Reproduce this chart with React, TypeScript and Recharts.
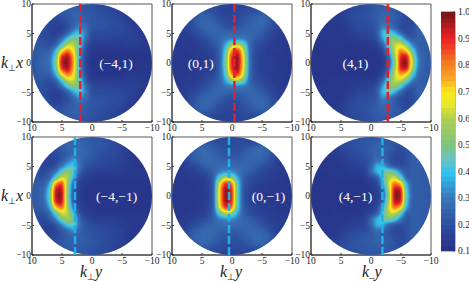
import React from "react";
import { ScatterChart, Scatter, XAxis, YAxis, ReferenceArea, ReferenceDot } from "recharts";

const SERIF = '"Liberation Serif", serif';

const axisTicks = [10, 5, 0, -5, -10];
const gridX = [10, 9, 8, 7, 6, 5, 4, 3, 2, 1, 0, -1, -2, -3, -4, -5, -6, -7, -8, -9, -10];
const gridY = [10, 9, 8, 7, 6, 5, 4, 3, 2, 1, 0, -1, -2, -3, -4, -5, -6, -7, -8, -9, -10];

// intensity x100, rows from y=10 down to y=-10, columns from x=10 to x=-10
const gridMinus4Plus1 = [
  [18,18,18,18,18,20,22,22,22,21,20,19,18,17,16,15,14,14,13,13,13],
  [18,18,18,19,20,22,23,24,24,22,21,20,19,18,16,15,14,13,13,13,13],
  [18,18,19,20,20,21,23,25,25,23,22,21,20,19,18,16,14,13,13,13,13],
  [18,19,20,18,17,18,21,24,27,24,22,21,21,20,19,18,15,14,13,13,13],
  [18,20,20,17,15,15,19,25,33,27,22,21,21,20,19,19,17,15,13,13,13],
  [18,20,20,17,15,17,24,36,43,31,20,19,19,19,18,18,17,16,14,13,13],
  [18,21,20,18,18,26,42,52,46,28,18,17,17,17,16,16,16,16,15,13,13],
  [19,22,21,20,24,40,62,62,44,22,15,14,14,14,14,14,15,15,14,13,13],
  [20,23,23,24,36,68,82,68,38,19,13,12,12,12,12,12,13,13,13,13,13],
  [20,24,25,27,44,90,99,76,36,17,13,12,12,12,12,12,12,12,12,12,12],
  [20,24,26,28,47,96,100,78,36,16,12,12,12,12,12,12,12,12,12,12,12],
  [20,24,25,27,44,90,99,76,36,17,13,12,12,12,12,12,12,12,12,12,12],
  [20,23,23,24,36,68,84,70,38,19,13,12,12,12,12,12,13,13,13,13,13],
  [19,22,21,20,24,42,64,64,46,22,15,14,14,14,14,14,15,15,14,13,13],
  [18,21,20,18,18,28,44,54,48,28,18,17,17,17,16,16,16,16,15,13,13],
  [18,20,20,17,15,17,24,36,44,31,20,19,19,19,18,18,17,16,14,13,13],
  [18,20,20,17,15,16,20,26,34,27,22,21,21,20,19,19,17,15,13,13,13],
  [18,19,20,18,17,18,21,24,27,24,22,21,21,20,19,18,15,14,13,13,13],
  [18,18,19,20,20,21,23,25,25,23,22,21,20,19,18,16,14,13,13,13,13],
  [18,18,18,19,20,22,23,24,24,22,21,20,19,18,16,15,14,13,13,13,13],
  [18,18,18,18,18,20,22,22,22,21,20,19,18,17,16,15,14,14,13,13,13],
];

const gridZeroPlus1 = [
  [14,14,14,15,16,16,17,17,17,17,17,17,17,17,17,16,15,14,14,14,14],
  [14,14,15,16,18,20,20,18,17,16,16,17,18,19,19,19,18,16,15,14,14],
  [14,14,16,18,22,25,24,21,19,17,17,18,20,22,23,25,24,19,16,14,14],
  [14,15,16,19,23,26,26,24,21,19,18,19,21,24,26,27,25,20,16,14,14],
  [14,15,16,18,21,25,26,26,24,21,20,21,23,25,26,26,23,19,16,14,14],
  [14,14,15,16,18,21,24,26,26,26,25,25,26,26,25,23,20,17,15,14,14],
  [13,14,14,15,16,18,21,24,26,29,30,31,30,27,23,21,18,16,14,14,14],
  [13,13,14,14,14,16,18,21,25,36,56,62,50,26,20,18,16,15,14,13,13],
  [13,13,13,14,14,15,16,18,24,42,80,92,64,27,19,17,15,14,14,13,13],
  [13,13,13,13,14,14,15,17,23,46,90,100,68,27,18,16,15,14,13,13,13],
  [13,13,13,13,14,14,15,17,23,48,92,100,70,28,18,16,15,14,13,13,13],
  [13,13,13,13,14,14,15,17,23,46,90,100,68,27,18,16,15,14,13,13,13],
  [13,13,13,14,14,15,16,18,24,42,80,92,64,27,19,17,15,14,14,13,13],
  [13,13,14,14,14,16,18,21,25,36,56,62,50,26,20,18,16,15,14,13,13],
  [13,14,14,15,16,18,21,24,26,29,30,31,30,27,23,21,18,16,14,14,14],
  [14,14,15,16,18,21,24,26,26,26,25,25,26,26,25,23,20,17,15,14,14],
  [14,15,16,18,21,25,26,26,24,21,20,21,23,25,26,26,23,19,16,14,14],
  [14,15,16,19,23,26,26,24,21,19,18,19,21,24,26,27,25,20,16,14,14],
  [14,14,16,18,22,25,24,21,19,17,17,18,20,22,23,25,24,19,16,14,14],
  [14,14,15,16,18,20,20,18,17,16,16,17,18,19,19,19,18,16,15,14,14],
  [14,14,14,15,16,16,17,17,17,17,17,17,17,17,17,16,15,14,14,14,14],
];

const gridPlus4Plus1 = [
  [13,13,13,14,14,15,15,16,18,20,21,22,22,22,22,21,20,20,20,20,20],
  [13,13,13,13,14,15,16,18,19,20,21,23,24,24,23,21,19,20,21,21,21],
  [13,13,13,13,13,15,17,19,20,21,22,24,26,26,24,21,18,20,22,22,22],
  [13,13,13,13,13,14,16,18,20,20,21,23,27,26,23,20,17,19,23,23,22],
  [13,13,13,13,13,13,15,17,19,19,20,22,31,30,24,19,17,19,24,24,22],
  [13,13,13,13,13,13,14,15,17,17,18,21,40,46,38,26,18,20,25,24,22],
  [13,13,13,13,13,13,13,14,15,15,16,19,34,50,54,46,28,21,25,24,22],
  [12,12,12,13,13,13,13,13,13,13,14,15,24,44,62,66,52,30,24,24,22],
  [12,12,12,12,12,12,12,12,12,12,12,13,17,34,62,80,72,44,26,24,22],
  [12,12,12,12,12,12,12,12,12,12,12,12,14,25,54,92,96,56,28,24,22],
  [12,12,12,12,12,12,12,12,12,12,12,12,13,21,48,96,100,62,30,24,22],
  [12,12,12,12,12,12,12,12,12,12,12,12,14,25,54,92,96,56,28,24,22],
  [12,12,12,12,12,12,12,12,12,12,12,13,17,34,62,78,70,44,26,24,22],
  [12,12,12,13,13,13,13,13,13,13,14,15,24,46,62,64,50,30,24,24,22],
  [13,13,13,13,13,13,13,14,15,15,16,19,34,52,56,46,28,21,25,24,22],
  [13,13,13,13,13,13,14,15,17,17,18,21,40,48,38,26,18,20,25,24,22],
  [13,13,13,13,13,13,15,17,19,19,20,22,33,30,24,19,17,19,24,24,22],
  [13,13,13,13,13,14,16,18,20,20,21,23,27,26,23,20,17,19,23,23,22],
  [13,13,13,13,13,15,17,19,20,21,22,24,26,26,24,21,18,20,22,22,22],
  [13,13,13,13,14,15,16,18,19,20,21,23,24,24,23,21,19,20,21,21,21],
  [13,13,13,14,14,15,15,16,18,20,21,22,22,22,22,21,20,20,20,20,20],
];

const gridMinus4Minus1 = [
  [18,18,18,19,20,22,23,24,24,23,22,21,20,19,17,15,14,13,13,13,13],
  [18,18,19,20,22,23,25,26,26,24,23,22,21,20,18,16,14,13,13,13,13],
  [18,19,20,20,21,23,25,27,27,25,23,22,21,20,18,16,14,13,13,13,13],
  [18,20,20,18,18,21,24,27,27,25,23,21,20,19,18,16,14,13,13,13,13],
  [19,20,17,15,17,22,28,36,27,23,21,20,19,18,17,16,14,13,13,13,13],
  [20,19,16,17,20,28,38,44,28,21,19,18,17,17,16,15,14,13,13,13,13],
  [20,19,18,22,28,46,56,46,24,18,16,15,15,15,15,14,13,13,13,13,13],
  [21,21,21,24,44,64,60,36,19,15,14,13,13,13,13,13,13,13,13,13,13],
  [22,23,24,34,80,90,56,24,16,13,12,12,12,12,12,12,12,12,12,12,12],
  [22,24,26,42,94,98,52,22,15,13,12,12,12,12,12,12,12,12,12,12,12],
  [22,24,27,44,96,100,50,20,14,12,12,12,12,12,12,12,12,12,12,12,12],
  [22,24,26,42,94,98,52,22,15,13,12,12,12,12,12,12,12,12,12,12,12],
  [22,23,24,34,74,86,58,26,16,13,12,12,12,12,12,12,12,12,12,12,12],
  [21,21,21,25,46,64,62,40,20,15,14,13,13,13,13,13,13,13,13,13,13],
  [20,19,18,22,30,50,58,50,26,18,16,15,15,15,15,14,13,13,13,13,13],
  [20,19,16,17,20,30,42,46,28,21,19,18,17,17,16,15,14,13,13,13,13],
  [19,20,17,15,17,22,26,34,24,22,21,20,19,18,17,16,14,13,13,13,13],
  [18,20,20,18,18,21,24,25,24,23,21,20,19,18,17,16,14,13,13,13,13],
  [18,19,20,20,21,22,24,24,24,23,22,21,20,19,17,16,14,13,13,13,13],
  [18,18,19,20,21,22,23,23,23,22,21,20,19,18,16,15,14,13,13,13,13],
  [18,18,18,19,20,21,22,22,22,21,20,19,18,17,16,15,14,13,13,13,13],
];

const gridZeroMinus1 = [
  [14,14,14,15,16,17,17,18,18,18,18,18,18,17,17,16,15,14,14,14,14],
  [14,14,15,17,20,22,22,20,19,19,19,19,19,19,20,20,18,16,15,14,14],
  [14,15,17,20,24,27,26,23,21,20,20,20,21,23,26,27,24,20,16,14,14],
  [14,15,18,22,25,27,27,25,23,21,21,21,23,25,27,27,25,20,16,14,14],
  [14,15,17,20,23,26,27,26,25,24,24,24,25,26,26,25,22,18,15,14,14],
  [14,14,15,17,19,22,25,26,27,28,28,27,26,25,24,21,19,16,15,14,14],
  [13,13,14,15,16,18,21,24,30,32,32,29,26,24,21,18,16,15,14,14,14],
  [13,13,13,14,14,15,17,24,46,62,56,36,23,20,17,16,15,14,14,13,13],
  [13,13,13,13,13,14,16,23,68,92,86,44,22,18,16,15,14,14,13,13,13],
  [13,13,13,13,13,14,15,23,72,100,92,44,21,17,15,14,14,13,13,13,13],
  [13,13,13,13,13,13,15,23,72,100,94,44,20,16,15,14,13,13,13,13,13],
  [13,13,13,13,13,14,15,23,72,100,92,44,21,17,15,14,14,13,13,13,13],
  [13,13,13,13,13,14,16,23,68,92,86,44,22,18,16,15,14,14,13,13,13],
  [13,13,13,14,14,15,17,24,46,62,56,36,23,20,17,16,15,14,14,13,13],
  [13,13,14,15,16,18,21,24,30,32,32,29,26,24,21,18,16,15,14,14,14],
  [14,14,15,17,19,22,25,26,27,28,28,27,26,25,24,21,19,16,15,14,14],
  [14,15,17,20,23,26,27,26,25,24,24,24,25,26,26,25,22,18,15,14,14],
  [14,15,18,22,25,27,27,25,23,21,21,21,23,25,27,27,25,20,16,14,14],
  [14,15,17,20,24,27,26,23,21,20,20,20,21,23,26,27,24,20,16,14,14],
  [14,14,15,17,20,22,22,20,19,18,18,18,19,19,20,20,18,16,15,14,14],
  [14,14,14,15,16,17,17,17,17,17,17,17,17,17,17,16,15,14,14,14,14],
];

const gridPlus4Minus1 = [
  [13,13,14,15,16,17,18,19,20,21,21,21,22,22,21,20,20,20,20,20,20],
  [13,13,14,15,16,18,19,20,21,22,23,24,24,23,22,20,20,21,21,21,21],
  [13,13,13,14,15,17,19,20,21,22,24,26,26,24,21,19,20,22,23,22,22],
  [13,13,13,13,14,15,17,19,20,21,23,26,25,22,19,18,20,23,24,23,22],
  [13,13,13,13,13,14,16,17,18,19,22,28,27,21,18,17,20,24,24,23,22],
  [13,13,13,13,13,13,14,15,16,17,24,38,38,26,20,20,21,24,24,23,22],
  [12,13,13,13,13,13,13,14,14,16,26,38,46,52,46,30,21,24,24,23,22],
  [12,12,12,12,13,13,13,13,13,14,17,22,40,60,64,46,23,24,24,23,22],
  [12,12,12,12,12,12,12,12,12,12,14,16,34,64,84,76,36,23,24,23,22],
  [12,12,12,12,12,12,12,12,12,12,13,15,24,56,96,96,40,23,24,23,22],
  [12,12,12,12,12,12,12,12,12,12,13,14,20,52,100,98,44,23,24,23,22],
  [12,12,12,12,12,12,12,12,12,12,13,15,24,56,96,96,40,23,24,23,22],
  [12,12,12,12,12,12,12,12,12,12,14,16,34,64,84,76,36,23,24,23,22],
  [12,12,12,12,13,13,13,13,13,14,17,22,40,60,64,46,23,24,24,23,22],
  [12,13,13,13,13,13,13,14,14,16,26,38,46,52,46,30,21,24,24,23,22],
  [13,13,13,13,13,13,14,15,16,17,24,38,38,26,20,20,21,24,24,23,22],
  [13,13,13,13,13,14,16,18,19,20,22,28,26,21,18,17,20,24,24,23,22],
  [13,13,13,13,14,16,18,20,21,22,23,25,24,22,19,18,20,23,24,23,22],
  [13,13,13,14,16,18,20,21,22,23,24,25,24,23,21,19,20,22,23,22,22],
  [13,13,14,15,17,19,20,21,22,22,23,23,23,22,21,20,20,21,21,21,21],
  [13,13,14,15,16,17,18,19,20,21,21,21,21,21,21,20,20,20,20,20,20],
];

const panelGrids = [gridMinus4Plus1, gridZeroPlus1, gridPlus4Plus1, gridMinus4Minus1, gridZeroMinus1, gridPlus4Minus1];
const panelNames = ["(−4,1)", "(0,1)", "(4,1)", "(−4,−1)", "(0,−1)", "(4,−1)"];
const nameX = [-4, 5.2, 2.6, -4.1, -6.1, 2.6];
const dividerX = [1.95, -0.4, -2.8, 2.83, 0.5, -1.9];
const plotLeft = [32, 172, 311, 32, 172, 311];
const plotTop = [4, 4, 4, 137, 137, 137];

const colorbarTicks = [0.1, 0.2, 0.3, 0.4, 0.5, 0.6, 0.7, 0.8, 0.9, 1.0];
const colorbarLevels = [
  0.11, 0.13, 0.15, 0.17, 0.19, 0.21, 0.23, 0.25, 0.27, 0.29, 0.31, 0.33, 0.35, 0.37, 0.39,
  0.41, 0.43, 0.45, 0.47, 0.49, 0.51, 0.53, 0.55, 0.57, 0.59, 0.61, 0.63, 0.65, 0.67, 0.69,
  0.71, 0.73, 0.75, 0.77, 0.79, 0.81, 0.83, 0.85, 0.87, 0.89, 0.91, 0.93, 0.95, 0.97, 0.99,
];

const colorStops: [number, number[]][] = [
  [0.1, [38, 47, 134]],
  [0.2, [45, 79, 159]],
  [0.3, [58, 118, 184]],
  [0.39, [47, 192, 238]],
  [0.45, [108, 196, 192]],
  [0.5, [124, 195, 124]],
  [0.6, [176, 208, 80]],
  [0.65, [230, 230, 42]],
  [0.7, [251, 232, 26]],
  [0.75, [249, 168, 37]],
  [0.8, [245, 130, 31]],
  [0.9, [237, 32, 36]],
  [0.95, [176, 28, 32]],
  [1.0, [112, 20, 20]],
];

const channelsAt = (v: number) => {
  let i = 0;
  while (i < colorStops.length - 2 && v > colorStops[i + 1][0]) i++;
  const [a, ca] = colorStops[i];
  const [b, cb] = colorStops[i + 1];
  const t = Math.max(0, Math.min(1, (v - a) / (b - a)));
  return ca.map((n, k) => Math.round(n + (cb[k] - n) * t));
};

const colorAt = (v: number) => {
  const c = channelsAt(v);
  return `rgb(${c[0]},${c[1]},${c[2]})`;
};

// colour lookup for the panels: cells are drawn as grey levels, softened, then mapped through the colour scale
const tableSteps = Array.from({ length: 101 }, (_, i) => i / 100);
const tableFor = (k: number) => tableSteps.map((v) => (channelsAt(v)[k] / 255).toFixed(3)).join(" ");

const minusTick = (v: number) => (v < 0 ? `−${-v}` : `${v}`);

const HeatCell = (props: any) => {
  const g = Math.round(props.payload.v * 255);
  return <rect x={props.cx - 3.5} y={props.cy - 3.5} width={7} height={7} fill={`rgb(${g},${g},${g})`} />;
};

const BarCell = (props: any) => (
  <rect x={props.cx - 7} y={props.cy - 3} width={14} height={6} fill={colorAt(props.payload.v)} />
);

const NoMark = () => null;

const PLOT_W = 120;
const PLOT_H = 118;
const AXIS_W = 28;
const PAD_TOP = 6;
const PAD_RIGHT = 14;

const tickStyle = { fontSize: 9.5, fontFamily: SERIF, fill: "#222" };

const Panel = ({ index }: { index: number }) => {
  const cells = panelGrids[index].flatMap((row, r) => row.map((v, c) => ({ x: gridX[c], y: gridY[r], v: v / 100 })));
  const divider = [{ x: dividerX[index], y: -10 }, { x: dividerX[index], y: 10 }];
  const lineColor = index < 3 ? "#e3202f" : "#1fb0e6";
  const clipId = `disc-${index}`;
  const filterId = `soft-${index}`;
  const width = AXIS_W + PLOT_W + PAD_RIGHT;
  const height = PAD_TOP + PLOT_H + 16;
  return (
    <div style={{ position: "absolute", left: plotLeft[index] - AXIS_W, top: plotTop[index] - PAD_TOP }}>
      <style>{`.heat-${index}{filter:url(#${filterId});clip-path:url(#${clipId})}`}</style>
      <ScatterChart width={width} height={height} margin={{ top: PAD_TOP, right: PAD_RIGHT, bottom: 0, left: 0 }}>
        <defs>
          <clipPath id={clipId}>
            <ellipse cx={AXIS_W + PLOT_W / 2} cy={PAD_TOP + PLOT_H / 2} rx={PLOT_W / 2} ry={PLOT_H / 2} />
          </clipPath>
          <filter id={filterId} filterUnits="userSpaceOnUse" x={0} y={0} width={width} height={height} colorInterpolationFilters="sRGB">
            <feGaussianBlur stdDeviation={2} />
            <feComponentTransfer>
              <feFuncR type="table" tableValues={tableFor(0)} />
              <feFuncG type="table" tableValues={tableFor(1)} />
              <feFuncB type="table" tableValues={tableFor(2)} />
            </feComponentTransfer>
          </filter>
        </defs>
        <XAxis
          type="number"
          dataKey="x"
          domain={[-10, 10]}
          reversed
          ticks={axisTicks}
          interval={0}
          tickFormatter={minusTick}
          tick={tickStyle}
          tickSize={-2}
          tickMargin={4}
          height={16}
          stroke="#333"
        />
        <YAxis
          type="number"
          dataKey="y"
          domain={[-10, 10]}
          ticks={axisTicks}
          interval={0}
          tickFormatter={minusTick}
          tick={tickStyle}
          tickSize={-2}
          tickMargin={3}
          width={AXIS_W}
          stroke="#333"
        />
        <Scatter className={`heat-${index}`} data={cells} shape={HeatCell} isAnimationActive={false} />
        <ReferenceArea x1={10} x2={-10} y1={-10} y2={10} fill="none" stroke="#555" />
        <Scatter
          data={divider}
          shape={NoMark}
          line={{ stroke: lineColor, strokeWidth: 2.5, strokeDasharray: "8 3" }}
          isAnimationActive={false}
        />
        <ReferenceDot
          x={nameX[index]}
          y={0}
          r={0}
          fill="none"
          stroke="none"
          label={{ value: panelNames[index], position: "center", fill: "#fff", fontSize: 13.5, fontFamily: SERIF }}
        />
      </ScatterChart>
    </div>
  );
};

const Colorbar = () => {
  const cells = colorbarLevels.map((v) => ({ x: 0.5, y: v, v }));
  return (
    <div style={{ position: "absolute", left: 441, top: 6 }}>
      <ScatterChart width={30} height={251} margin={{ top: 6, right: 0, bottom: 6, left: 0 }}>
        <XAxis type="number" dataKey="x" domain={[0, 1]} hide />
        <YAxis
          type="number"
          dataKey="y"
          orientation="right"
          domain={[0.1, 1]}
          ticks={colorbarTicks}
          interval={0}
          tickFormatter={(v: number) => v.toFixed(1)}
          tick={tickStyle}
          tickSize={-2}
          tickMargin={5}
          width={16}
          stroke="#777"
        />
        <Scatter data={cells} shape={BarCell} isAnimationActive={false} />
      </ScatterChart>
    </div>
  );
};

const AxisTitle = ({ left, top, tail, sub, subSize = 9, subDrop = 3 }: { left: number; top: number; tail: string; sub: string; subSize?: number; subDrop?: number }) => (
  <div
    style={{
      position: "absolute",
      left,
      top,
      fontFamily: SERIF,
      fontStyle: "italic",
      fontSize: 16,
      lineHeight: "16px",
      color: "#222",
      whiteSpace: "nowrap",
    }}
  >
    k<span style={{ fontSize: subSize, fontStyle: "normal", position: "relative", top: subDrop }}>{sub}</span>
    {tail}
  </div>
);

export default function App() {
  return (
    <div style={{ position: "absolute", left: 0, top: 0, width: 469, height: 282, overflow: "hidden", background: "#fff" }}>
      {panelGrids.map((_, i) => (
        <Panel key={i} index={i} />
      ))}
      <Colorbar />
      <AxisTitle left={1} top={55} sub="⊥" tail="x" />
      <AxisTitle left={1} top={188} sub="⊥" tail="x" />
      <AxisTitle left={80} top={264} sub="⊥" tail="y" />
      <AxisTitle left={220} top={264} sub="⊥" tail="y" />
      <AxisTitle left={362} top={264} sub="_" tail="y" subSize={11} subDrop={0} />
    </div>
  );
}
